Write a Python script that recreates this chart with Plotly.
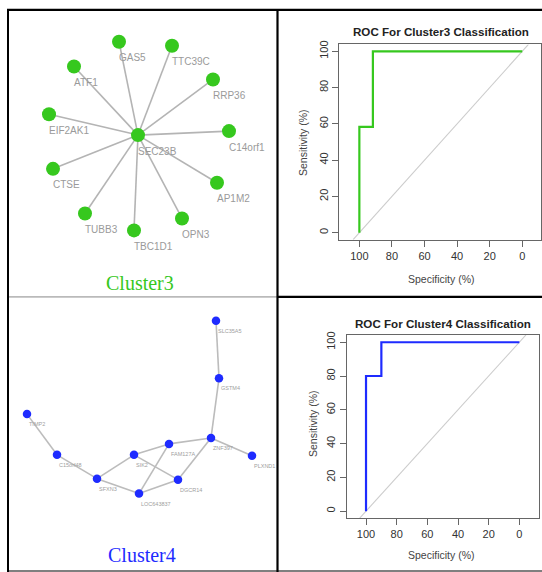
import plotly.graph_objects as go

W, H = 542, 572

# ---------------- data ----------------
# Cluster3 network (layout positions, panel units)
c3_names = ["SEC23B", "GAS5", "TTC39C", "ATF1", "RRP36", "EIF2AK1", "C14orf1",
            "CTSE", "AP1M2", "TUBB3", "TBC1D1", "OPN3"]
c3_x = [129, 110, 163, 65, 204, 40, 220, 44, 208, 76, 125, 173]
c3_y = [125, 31, 35, 56, 69, 104, 121, 159, 173, 204, 221, 209]
c3_edges = [("SEC23B", n) for n in c3_names[1:]]

# Cluster4 network
c4_names = ["SLC35A5", "GSTM4", "TIMP2", "ZNF397", "FAM127A", "SIK2", "C15orf48",
            "PLXND1", "DGCR14", "SFXN3", "LOC643837"]
c4_x = [207, 210, 18, 202, 160, 125, 48, 243, 169, 88, 130]
c4_y = [23, 81, 117, 141, 147, 158, 158, 159, 183, 182, 197]
c4_edges = [("SLC35A5", "GSTM4"), ("GSTM4", "ZNF397"), ("ZNF397", "FAM127A"),
            ("ZNF397", "PLXND1"), ("ZNF397", "DGCR14"), ("FAM127A", "SIK2"),
            ("FAM127A", "LOC643837"), ("SIK2", "SFXN3"), ("SIK2", "DGCR14"),
            ("SFXN3", "LOC643837"), ("LOC643837", "DGCR14"),
            ("SFXN3", "C15orf48"), ("C15orf48", "TIMP2")]

# ROC curves (specificity %, sensitivity %)
roc3_spec = [100, 100, 91.7, 91.7, 0]
roc3_sens = [0, 58.3, 58.3, 100, 100]
roc4_spec = [100, 100, 90, 90, 0]
roc4_sens = [0, 80, 80, 100, 100]
tick_vals = [0, 20, 40, 60, 80, 100]

GREEN = "#36c81e"
BLUE = "#1e2bff"
NARROW = "Liberation Sans Narrow, Arial Narrow, Liberation Sans, Arial, sans-serif"

fig = go.Figure()


def px_x(p):
    return p / W


def px_y(p):
    return 1 - p / H


def edge_xy(names, xs, ys, edges):
    pos = {n: (x, y) for n, x, y in zip(names, xs, ys)}
    ex, ey = [], []
    for a, b in edges:
        ex += [pos[a][0], pos[b][0], None]
        ey += [pos[a][1], pos[b][1], None]
    return ex, ey


# ---------- Cluster3 network ----------
ex, ey = edge_xy(c3_names, c3_x, c3_y, c3_edges)
fig.add_trace(go.Scatter(x=ex, y=ey, mode="lines", xaxis="x", yaxis="y",
                         line=dict(color="#b4b4b4", width=1.6), hoverinfo="skip",
                         showlegend=False))
fig.add_trace(go.Scatter(x=c3_x, y=c3_y, mode="markers", xaxis="x", yaxis="y",
                         marker=dict(color=GREEN, size=14, line=dict(width=0)),
                         text=c3_names, showlegend=False))
for n, x, y in zip(c3_names, c3_x, c3_y):
    fig.add_annotation(x=x, y=y, xref="x", yref="y", text=n, showarrow=False,
                       xanchor="left", yanchor="middle", xshift=-2, yshift=-16,
                       font=dict(family="Liberation Sans, Arial", size=10, color="#9a9a9a"))
fig.add_annotation(x=131, y=274, xref="x", yref="y", text="Cluster3", showarrow=False,
                   xanchor="center", yanchor="middle",
                   font=dict(family="Liberation Serif, Times New Roman, serif", size=20, color=GREEN))

# ---------- Cluster4 network ----------
ex, ey = edge_xy(c4_names, c4_x, c4_y, c4_edges)
fig.add_trace(go.Scatter(x=ex, y=ey, mode="lines", xaxis="x3", yaxis="y3",
                         line=dict(color="#bcbcbc", width=1.6), hoverinfo="skip",
                         showlegend=False))
fig.add_trace(go.Scatter(x=c4_x, y=c4_y, mode="markers", xaxis="x3", yaxis="y3",
                         marker=dict(color=BLUE, size=8.5, line=dict(width=0)),
                         text=c4_names, showlegend=False))
for n, x, y in zip(c4_names, c4_x, c4_y):
    fig.add_annotation(x=x, y=y, xref="x3", yref="y3", text=n, showarrow=False,
                       xanchor="left", yanchor="middle", xshift=0, yshift=-10,
                       font=dict(family="Liberation Sans, Arial", size=5.5, color="#a0a0a0"))
fig.add_annotation(x=133, y=259, xref="x3", yref="y3", text="Cluster4", showarrow=False,
                   xanchor="center", yanchor="middle",
                   font=dict(family="Liberation Serif, Times New Roman, serif", size=20, color=BLUE))

# ---------- ROC panels ----------
rocs = [
    dict(ax="2", spec=roc3_spec, sens=roc3_sens, color=GREEN, title="ROC For Cluster3 Classification",
         box=(339, 541, 40.7, 237.3), xr=[112.5, -11.5], yr=[-3.84, 103.8],
         title_pos=(441, 28), xt_pos=(441, 277), yt_pos=(303, 140)),
    dict(ax="4", spec=roc4_spec, sens=roc4_sens, color=BLUE, title="ROC For Cluster4 Classification",
         box=(346.7, 539.3, 333.3, 517.7), xr=[112.6, -13.0], yr=[-4.1, 104.3],
         title_pos=(443, 322), xt_pos=(442, 555), yt_pos=(313, 423)),
]
for r in rocs:
    xa, ya = "x" + r["ax"], "y" + r["ax"]
    y0, y1 = r["yr"]
    # chance diagonal across the plot
    fig.add_trace(go.Scatter(x=[100 - y0, 100 - y1], y=[y0, y1], mode="lines", xaxis=xa, yaxis=ya,
                             line=dict(color="#cccccc", width=1.1), hoverinfo="skip", showlegend=False))
    fig.add_trace(go.Scatter(x=r["spec"], y=r["sens"], mode="lines", xaxis=xa, yaxis=ya,
                             line=dict(color=r["color"], width=2.2), showlegend=False))
    tx, ty = r["title_pos"]
    fig.add_annotation(x=px_x(tx), y=px_y(ty), xref="paper", yref="paper", text="<b>" + r["title"] + "</b>",
                       showarrow=False, xanchor="center", yanchor="middle",
                       font=dict(family=NARROW, size=11.6, color="#222222"))
    tx, ty = r["xt_pos"]
    fig.add_annotation(x=px_x(tx), y=px_y(ty), xref="paper", yref="paper", text="Specificity (%)",
                       showarrow=False, xanchor="center", yanchor="middle",
                       font=dict(family=NARROW, size=10.5, color="#444444"))
    tx, ty = r["yt_pos"]
    fig.add_annotation(x=px_x(tx), y=px_y(ty), xref="paper", yref="paper", text="Sensitivity (%)",
                       showarrow=False, xanchor="center", yanchor="middle", textangle=-90,
                       font=dict(family=NARROW, size=10.5, color="#444444"))

axis_common = dict(showgrid=False, zeroline=False, ticks="outside", ticklen=6, tickwidth=1,
                   tickcolor="#666666", showline=True, linecolor="#666666", linewidth=1.2,
                   mirror=True, tickfont=dict(family=NARROW, size=11, color="#333333"),
                   tickvals=tick_vals, ticktext=[str(v) for v in tick_vals])
net_axis = dict(visible=False, showgrid=False, zeroline=False, fixedrange=True)

layout = dict(
    width=W, height=H, margin=dict(l=0, r=0, t=0, b=0),
    paper_bgcolor="white", plot_bgcolor="white", showlegend=False,
    xaxis=dict(net_axis, domain=[px_x(9), px_x(277)], range=[0, 268]),
    yaxis=dict(net_axis, domain=[px_y(294), px_y(7)], range=[287, 0]),
    xaxis3=dict(net_axis, domain=[px_x(9), px_x(277)], range=[0, 268]),
    yaxis3=dict(net_axis, domain=[px_y(571), px_y(296)], range=[275, 0]),
)
for r in rocs:
    x0, x1, yt, yb = r["box"]
    layout["xaxis" + r["ax"]] = dict(axis_common, domain=[px_x(x0), px_x(x1)], range=r["xr"],
                                     anchor="y" + r["ax"])
    layout["yaxis" + r["ax"]] = dict(axis_common, domain=[px_y(yb), px_y(yt)], range=r["yr"],
                                     anchor="x" + r["ax"], tickangle=-90)
fig.update_layout(**layout)

# ---------- panel frame lines ----------
def hline(y, x0, x1, color, w):
    fig.add_shape(type="line", xref="paper", yref="paper", x0=px_x(x0), x1=px_x(x1),
                  y0=px_y(y), y1=px_y(y), line=dict(color=color, width=w))


def vline(x, y0, y1, color, w):
    fig.add_shape(type="line", xref="paper", yref="paper", x0=px_x(x), x1=px_x(x),
                  y0=px_y(y0), y1=px_y(y1), line=dict(color=color, width=w))


hline(6, 7, 542, "black", 2.2)
hline(295, 8, 277, "#888888", 1)
hline(295, 277, 542, "black", 2.2)
hline(571, 7, 542, "black", 1.2)
vline(8, 5, 572, "black", 2)
vline(277.5, 5, 572, "black", 2.2)

fig.write_html("out.html")
